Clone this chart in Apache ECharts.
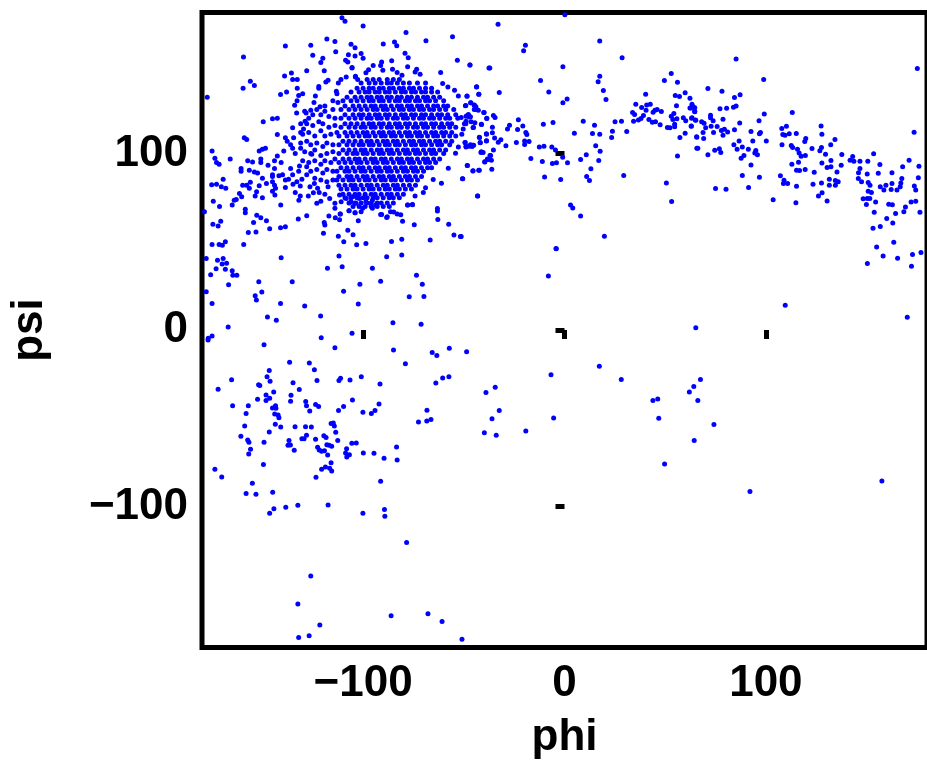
<!DOCTYPE html>
<html><head><meta charset="utf-8">
<style>html,body{margin:0;padding:0;background:#fff;overflow:hidden}#c{width:927px;height:774px}</style>
<script src="https://cdn.jsdelivr.net/npm/echarts@6/dist/echarts.min.js"></script>
</head><body><div id="c"></div>
<script>
const xTicks=[-100,0,100];
const yTicks=[-100,0,100];
const upperLeft=[[-110.5,177],[-109,175],[-100,172.4],[-118,165],[-114,163.5],[-126,161.4],[-138.6,161],[-159.4,154.8],[-113.6,157.8],[-125,155.8],[-106,162],[-104,160],[-107.3,156],[-104,155.4],[-101,156.7],[-100,154],[-120,154],[-121,151.6],[-108.7,153],[-107.6,152],[-105.5,148.8],[-119.3,147],[-128,147],[-135.6,145.7],[-139,144],[-135,142],[-132.7,142],[-156,141],[-154,138.6],[-159.6,137],[-177.4,132],[-132.7,137],[-138,135],[-141,133.5],[-130,134],[-132,133],[-132.8,130],[-134,127.4],[-123.7,132.7],[-124.4,129],[-121.4,126.5],[-119,127],[-117.4,141.6],[-118.5,140.6],[-122,138],[-122,137],[-111,142],[-112.3,140],[-108.4,143.5],[-103.8,143.5],[-113.3,135.4],[-113,134],[-115,130],[-112.5,129],[-133,123],[-128.3,123],[-126,124.6],[-128.8,118.4],[-131,117],[-149.6,118],[-145,119.7],[-142.6,120],[-135,114.6],[-129.6,114],[-131,112],[-142.6,110.8],[-159,109],[-157.8,108],[-138.6,109],[-134.5,109],[-137.7,107],[-136,105],[-175,101.5],[-150,102.5],[-151.6,101.5],[-148.5,103],[-139.4,101.5],[-135,103],[-131,103],[-133.7,100],[-173.6,97.4],[-172.8,95],[-171.5,94],[-166,97],[-157.3,96],[-154.9,95.3],[-150.8,97],[-150.8,95],[-147.2,93.4],[-144,96],[-142.6,98.7],[-140.7,95],[-160.6,91.5],[-160.6,90],[-156.5,90.6],[-154,89.6],[-144,91.5],[-136,91.5],[-131.6,93],[-128,92.5],[-125.5,99.6]];
const midLeft=[[-169.5,85.5],[-175.2,82.3],[-172.8,82.7],[-170.4,81.2],[-168.2,80.4],[-159.8,82],[-157.8,82],[-156,83.7],[-156.5,80.3],[-151.6,81.8],[-148,83],[-145,84],[-144,82],[-143.5,80.3],[-145,78.7],[-143.8,76.5],[-152.9,78.4],[-153.6,76],[-150,75],[-161.4,77.4],[-160.3,75.5],[-163,74],[-164,73.6],[-165,70.8],[-174.4,73],[-171.3,70],[-178.8,67],[-140.9,70.8],[-158.5,68.5],[-158.5,66.5],[-152.8,65],[-150.8,63.6],[-148,62],[-154.4,61],[-174.6,60],[-172,59],[-170.7,61.6],[-132.2,63],[-128,64.8],[-146.4,57.4],[-141,58],[-138.6,58.5],[-157,55.3],[-153.2,55.5],[-159.3,48.5],[-175,48.5],[-171.5,48.5],[-169.9,48],[-168.4,50],[-117,64.6],[-113.8,63.6],[-111.7,62.5],[-111.4,65.7],[-119.3,61],[-119,59.5],[-119.7,54.8],[-107.6,56.6],[-112.3,53.2],[-105,54],[-109.6,50],[-103.2,48.3],[-98.6,49],[-102.4,62],[-107,67.6],[-104,66.5],[-101,67],[-91.3,65.5],[-140.7,41],[-177.9,40.6],[-172.3,39.6],[-169.5,40.6],[-170,37.4],[-167.8,37.8],[-173,34.7],[-168.4,34.4],[-175.7,31.3],[-165,33.6],[-164.7,31],[-162.7,31],[-166.8,25.7],[-151.8,27.4],[-135.2,27.4],[-150.3,21.5],[-153.6,19.4],[-153,17],[-177.9,21.7],[-175,15],[-141,15],[-129,13.6],[-112,41.9],[-110.4,35.9],[-117.7,35],[-95.4,35],[-91.3,27.7],[-101.6,25.9],[-109.7,22],[-102.4,14.7],[-121.1,8],[-147.5,7.3],[-143.1,5.5],[-167,1.7],[-105.5,-1.9],[-120.8,-4.4],[-175,-3.4],[-176.9,-4.7],[-138.6,85],[-137,85.5],[-138.6,80.8],[-134.8,82.7],[-132.9,84],[-130.4,85.4],[-131.2,81.6],[-126.4,81.2],[-124.2,83],[-133.7,78],[-131.2,76],[-131.9,73.6],[-127.2,76],[-124.7,77.8],[-122.6,80.3],[-121.8,78],[-119,77],[-116.6,74.6],[-123,71.8],[-121,73],[-114,71.8],[-114,69],[-117.4,81.2],[-110.9,72.7],[-108.4,74.6],[-106,72.7],[-103.5,71.8],[-100.2,69],[-95.4,69],[-93.8,70.8],[-111.7,76.5],[-105.2,75.5],[-98.6,72.7],[-101.9,74.6],[-95.4,73.6],[-152.4,89],[-150,86],[-145,87],[-141.8,87.4]];
const lowerLeft=[[-177,-5.7],[-149.2,-8.3],[-114,-10],[-136.5,-18.3],[-126.7,-18.7],[-124.2,-22.5],[-146.6,-23],[-147.7,-26.5],[-165.3,-28.2],[-146.2,-29],[-134.8,-29.9],[-122.9,-28.7],[-111.2,-27.4],[-112,-28.7],[-106.5,-28.3],[-100.9,-26.5],[-91.6,-30.6],[-172,-33.6],[-151.9,-31],[-151.3,-31.4],[-131.7,-33.8],[-144.4,-35.1],[-148.2,-36.8],[-135.8,-37],[-146.4,-38.7],[-152.4,-39.3],[-148.2,-39.9],[-136,-40.4],[-128.5,-40.6],[-128.1,-42.9],[-123.6,-42.3],[-122.1,-43.3],[-105.3,-39.7],[-109.7,-43.3],[-164.8,-42.9],[-157,-42.9],[-143.5,-42.9],[-145,-44.2],[-143.3,-44.4],[-126.5,-45.9],[-112.2,-45.7],[-92.1,-42],[-100.1,-46.7],[-95.9,-47.4],[-94.1,-45.7],[-158.1,-47.4],[-143.9,-47.6],[-142.2,-48.2],[-141.8,-49.7],[-115.9,-53],[-114.8,-52.7],[-114.3,-54.4],[-158.8,-54.4],[-143.6,-53.5],[-140.9,-55],[-133.8,-54.8],[-128.6,-54.8],[-125.7,-55],[-113.6,-58],[-146.6,-57.8],[-160.7,-60.3],[-128.1,-59.7],[-130.4,-61.6],[-129.3,-61.6],[-119.5,-59.9],[-118.4,-61],[-123.6,-62],[-112.6,-62.7],[-157.3,-62.3],[-156.7,-63.7],[-149.2,-63.7],[-136.8,-62.7],[-136.1,-65.2],[-137.3,-65.4],[-134.2,-68.2],[-118,-65],[-116.9,-65.4],[-115.6,-65.9],[-105.6,-64.2],[-103.4,-64],[-155.9,-67.6],[-156.8,-70.3],[-122.6,-66.5],[-121.8,-68],[-120.6,-68.8],[-119.2,-68.4],[-117.6,-70.8],[-108.2,-67.3],[-108.7,-69.7],[-106.8,-70.7],[-108.1,-72],[-99.9,-69.7],[-94.6,-69.9],[-115.9,-75.2],[-149.5,-76.3],[-118.7,-77.6],[-120.6,-79],[-116.6,-78.4],[-115.6,-79.9],[-173.6,-79],[-170.2,-83.3],[-123.4,-83.5],[-155,-86.9],[-91.3,-85.8],[-144.9,-92],[-158.1,-92.7],[-153.2,-93.1],[-132.4,-99.4],[-117.4,-99.2],[-138.4,-100.5],[-144.3,-101.4],[-146.4,-103.9],[-100.1,-103.9],[-89.4,-101.8],[-89.2,-105.6],[-78.4,-120.5],[-126,-139.4],[-132.4,-155.4],[-86.1,-162],[-67.8,-160.9],[-60.8,-165.2],[-121.5,-167.3],[-132,-174.3],[-126.8,-173.4],[-50.9,-175.3]];
const midCenter=[[-77.9,70.8],[-75.5,71],[-63.1,68.9],[-63.1,67.4],[-62.9,62.7],[-80.4,61.7],[-74.6,59.7],[-57.5,60],[-54.9,53.8],[-51.7,53],[-66.7,51],[-85.9,50.2],[-80.8,51.4],[-4.1,46],[-88.3,41.5],[-80.8,42.5],[-8,30.6],[-73.5,31],[-70.6,26],[-77.1,18.9],[-69.8,19],[-85.2,4.1],[-71.2,3.2],[-84.9,-11.4],[-65.7,-12.7],[-63.4,-14.4],[-57.2,-10.4],[-48.6,-12.3],[-79,-19.1],[-6.7,-25.3],[-63.9,-30],[-60.5,-27.2],[-57.4,-26.5],[-34.4,-32.5],[-39,-35.5],[-68.3,-45.5],[-32.4,-45.7],[-36,-50.3],[-5.4,-49.9],[-72.5,-52.2],[-68.4,-51.6],[-66.3,-50.8],[-39.8,-58.2],[-33.9,-59.7],[-19.2,-57.3],[-83.4,-66.3],[-89.6,-72.7],[-83.1,-73.7],[-90.8,65.5],[-88.3,63.8],[-86.4,67],[-84.8,66.9],[-83.1,65.7],[-81.3,65.3]];
const blobFringe=[[-78.7,168.6],[-55.6,166.3],[-68.8,164],[-90,162.2],[-84.4,163.3],[-83.3,161.2],[-79.2,156.9],[-77.6,154.3],[-53.2,152.9],[-47,150.3],[-37.5,148.6],[-85.8,152.6],[-90.8,152],[-91.3,150],[-90.2,147.3],[-95,150],[-97.3,147.6],[-98.6,145.8],[-77.9,149.2],[-85.4,147.8],[-83.1,146],[-73.4,147.8],[-74.2,146.3],[-71.7,145],[-61.5,146],[-80.7,144.4],[-103.8,143.9],[-102.7,142],[-105.5,148.6],[-60.5,139.7],[-57.9,137.8],[-54.6,135.9],[-43.7,137.8],[-52.7,132.7],[-48.4,132.5],[-42.6,133.7],[-46.5,128.8],[-44.8,127.4],[-49.2,127.2],[-44,125],[-40.1,123.3],[-38.6,119.9],[-41.3,116.7],[-48.1,121.8],[-47.3,120.8],[-49.7,117],[-45.2,114.8],[-48.9,118.4],[-38.8,111.2],[-42.3,109.3],[-38.8,107.2],[-41.9,106.3],[-49.4,106.3],[-45.6,104.8],[-47.3,104.2],[-48.9,104.2],[-52.7,103.8],[-41.3,101],[-54.1,100.2],[-36.7,99],[-38.3,97],[-39.6,95.3],[-48.3,93.2],[-45.5,90.2],[-42.6,90.6],[-57.7,91.7],[-50.7,85.7],[-61.1,83.2],[-65.2,85.3],[-43.2,76],[-69,80.6],[-70.1,78],[-74.2,76],[-75.5,71.1],[-77.9,70.8],[-88,64.2],[-104,66.5],[-107,67.6],[-111.3,65.7]];
const leftLobe=[[-129,124],[-127,120],[-125,122],[-123,125],[-121,122],[-119,124],[-117,121],[-115,125],[-114,120],[-128,117],[-125,116],[-122,118],[-120,117],[-117,115],[-114,116],[-130,111],[-127,112],[-124,110],[-121,113],[-119,110],[-116,111],[-113,112],[-131,106],[-128,107],[-126,105],[-123,106],[-120,104],[-118,106],[-115,105],[-129,101],[-126,100],[-124,102],[-121,99],[-118,100],[-115,101],[-130,96],[-127,95],[-124,96],[-121,94],[-119,96],[-116,95],[-114,97],[-126,90],[-123,91],[-120,89],[-118,91],[-115,90],[-124,86],[-121,85],[-118,84],[-115,85],[-128,88],[-132,90],[-135,88],[-140,88],[-145,88]];
const corePsi=[142,140,137,135,132,130,127,125,122,120,117,115,112,110,107,105,102,100,97,95,92,90,87,85,82,80,77,75,72,70];
const corePhi=[
[-98,-95,-92,-88,-85,-82],
[-101,-97,-94,-91,-88,-86,-83,-80,-77,-73,-69],
[-103,-100,-97,-95,-92,-90,-87,-85,-82,-80,-77,-75,-72,-69,-66],
[-106,-102,-99,-97,-94,-92,-89,-87,-84,-81,-79,-76,-74,-71,-69,-66,-63],
[-108,-104,-101,-98,-96,-93,-91,-88,-86,-83,-81,-78,-76,-73,-70,-68,-65,-62],
[-110,-106,-103,-100,-97,-95,-92,-90,-87,-84,-82,-79,-77,-74,-72,-69,-67,-64,-60],
[-109,-105,-102,-99,-96,-94,-91,-89,-86,-83,-81,-78,-76,-73,-71,-68,-65,-63,-60,-58],
[-111,-107,-104,-101,-98,-95,-93,-90,-88,-85,-82,-80,-77,-75,-72,-70,-67,-65,-62,-59,-55],
[-109,-105,-102,-100,-97,-94,-92,-89,-87,-84,-81,-79,-76,-74,-71,-69,-66,-63,-61,-58,-54],
[-111,-107,-104,-101,-98,-96,-93,-91,-88,-85,-83,-80,-78,-75,-72,-70,-67,-65,-62,-59,-57,-53],
[-109,-106,-103,-100,-97,-95,-92,-90,-87,-84,-82,-79,-77,-74,-71,-69,-66,-64,-61,-58,-56],
[-111,-107,-104,-101,-99,-96,-94,-91,-88,-86,-83,-81,-78,-75,-73,-70,-68,-65,-62,-60,-57,-54],
[-109,-106,-103,-100,-98,-95,-92,-90,-87,-85,-82,-79,-77,-74,-72,-69,-66,-64,-61,-59,-56],
[-112,-108,-105,-102,-99,-97,-94,-91,-89,-86,-84,-81,-78,-76,-73,-71,-68,-65,-63,-60,-57,-54],
[-110,-107,-104,-101,-98,-96,-93,-90,-88,-85,-83,-80,-77,-75,-72,-70,-67,-64,-62,-59,-56],
[-112,-108,-105,-102,-100,-97,-95,-92,-89,-87,-84,-82,-79,-76,-74,-71,-69,-66,-63,-61,-57],
[-110,-107,-104,-101,-99,-96,-93,-91,-88,-86,-83,-80,-78,-75,-73,-70,-67,-65,-62,-59],
[-112,-108,-105,-103,-100,-98,-95,-92,-90,-87,-85,-82,-79,-77,-74,-72,-69,-66,-64,-60],
[-110,-107,-104,-102,-99,-96,-94,-91,-89,-86,-83,-81,-78,-76,-73,-70,-68,-65,-62],
[-112,-109,-106,-103,-101,-98,-95,-93,-90,-88,-85,-82,-80,-77,-75,-72,-69,-67,-64],
[-111,-108,-105,-102,-100,-97,-94,-92,-89,-87,-84,-81,-79,-76,-74,-71,-68,-66],
[-113,-109,-107,-104,-101,-99,-96,-93,-91,-88,-86,-83,-80,-78,-75,-73,-70],
[-112,-108,-106,-103,-100,-98,-95,-92,-90,-87,-85,-82,-79,-77,-74,-71],
[-113,-110,-107,-105,-102,-99,-97,-94,-91,-89,-86,-84,-81,-78,-76,-73],
[-112,-109,-106,-104,-101,-98,-96,-93,-90,-88,-85,-83,-80,-77,-74],
[-111,-108,-105,-103,-100,-97,-95,-92,-89,-87,-84,-82,-79,-76],
[-110,-107,-104,-102,-99,-96,-94,-91,-88,-86,-83,-80],
[-109,-106,-103,-100,-98,-95,-93,-90,-87,-85,-82],
[-107,-104,-101,-98,-96,-93,-91,-88,-85],
[-105,-102,-99,-96,-93,-90,-87]
];
const midBand=[[0.2,178.7],[-33,173.4],[-19.4,161.5],[-20.3,158.3],[17.5,163.9],[28.6,154.3],[-46.9,150.3],[-37.1,148.6],[-0.8,149.2],[53,145.4],[-11.9,141.4],[17.5,143.9],[16.7,140.7],[49.6,141.4],[56.1,140.5],[-43.6,137.9],[-7.8,135],[-32.4,134.6],[-42.5,133.7],[19.3,135.8],[40.3,133.7],[55,133],[57.1,132.4],[59.9,134.5],[62.3,131.4],[-48.4,132.6],[1.3,130.9],[-0.8,128.8],[20.6,130.7],[-46.6,128.8],[-49,127.3],[-44.8,127.5],[-44,126.5],[-44.8,125],[-42.8,124.6],[35.4,128],[40.8,127.6],[42.6,128],[38.3,126.1],[40.5,124.6],[55.6,127.1],[63.3,128],[62.3,125.8],[63.9,126.5],[64.6,124],[-39.9,123.3],[-47.7,122.2],[-48.9,121.2],[-46.7,120.9],[-35.3,121.6],[-34.5,120.5],[-38.6,120.1],[-51.3,120.5],[-46.4,118],[-44.5,117.5],[-49,116.9],[-41.2,116.5],[-45.4,114.8],[-35.8,115],[33.8,123.3],[34.8,122.2],[44.9,124.6],[46,125],[48.1,123.9],[44,123.5],[39.2,121.6],[38,119.9],[34.3,118.4],[36.7,119],[41.9,119.3],[43.6,117.8],[45.2,118],[47.5,116.3],[54.3,122.7],[53,121.2],[55.8,119.7],[53.8,119.3],[59,120.3],[60.2,118.6],[63.3,120.3],[65,119],[54.7,116.7],[51.1,114.8],[52.4,114.6],[54.7,115.2],[63,115.6],[25.1,118],[28.3,118.4],[9.3,118.4],[-10.5,116.7],[-5.7,117.6],[-22.9,119.2],[-27.3,116.1],[-28.3,113.9],[-20.7,115.6],[-23.3,113.7],[14.9,116.1],[4.9,111.6],[13.9,111.4],[17.5,111],[23.8,112.7],[30.9,112.5],[23.4,109.1],[-19.2,112],[-18.7,110.8],[-50.3,113.9],[-51,111],[-38.7,111],[-35.8,111.8],[-42.2,109.1],[-34.7,108.8],[-31.6,107.8],[-32.9,106.5],[-38.7,107.3],[-49.3,106.3],[-41.8,106.1],[-29.1,104.4],[-23.9,106.3],[-19.8,107.2],[-19.8,105.2],[-17.6,106.9],[59.9,111.6],[57.3,109.1],[65.6,109.5],[65.7,103.1],[-48.9,103.8],[-46.7,105],[-45.9,104],[-45.1,104.8],[-12.5,103.8],[-10.2,104.2],[-6.3,103.7],[-4.5,102],[15.5,104.4],[17.7,101.4],[-35.3,102],[-41.5,100.6],[-40.4,100.6],[-37,99],[-39.6,95.4],[-37.9,96.7],[-36.3,96.3],[-16.7,97.2],[-11,95.5],[-6,94.4],[-4,94.8],[-0.9,98],[1.5,94.8],[8,96.7],[10.8,99.3],[17,96.1],[56.1,98.6],[-48.2,93.3],[-45.4,90.3],[-42.3,90.6],[-36.1,91.2],[13.1,91.4],[29.4,87.6],[-50.5,85.7],[-9.9,86.8],[-1.9,85.3],[11,87],[12.4,84.8],[50.6,83.3],[53.2,72.9],[-43.1,76],[3,70.8],[4.1,69.1],[8,64.6],[19.8,53.2],[-51.3,53],[-4.2,46.2]];
const rightBand=[[85.2,153.7],[175.2,148.2],[98.9,142],[71.2,136.9],[78.2,135.4],[84.4,131.8],[87.2,133.3],[62.7,125.9],[64.7,126],[64.7,123.8],[77.2,125.4],[80.5,125.7],[83.9,126.3],[85.2,127],[113.1,123.3],[99.2,122.5],[72.5,121.8],[72.5,120.3],[63.1,120],[65.2,118.9],[68.1,118],[69.3,117.2],[73.8,118.6],[78.7,119.5],[96.6,118.6],[87,117.4],[70.1,114.6],[72.8,115.5],[75.8,115.4],[62.9,115.5],[68.8,111.9],[74,111.9],[77.9,113.1],[79.4,113.8],[81,112.3],[78.7,110.4],[84.4,113.5],[92.6,112.5],[97.3,111.9],[96.8,111.2],[107.9,114.2],[110.2,115.5],[111.6,111.2],[108.4,110.8],[109.5,110.4],[115.1,111.4],[127.4,115.7],[127.8,111],[65.7,109.3],[69.1,108.5],[86.7,107.2],[93.5,107.2],[100.2,107.2],[119.8,108.5],[119.3,106.8],[134.3,108],[84.1,105],[108,105],[112.6,104.6],[113.3,103.4],[132.2,105],[88.3,103.8],[91.3,102.5],[85.7,102.5],[66.2,103.1],[74.6,101.9],[76.9,102.7],[77.6,100.6],[115.7,102.5],[122.9,102.9],[127.6,103.4],[126.8,101.6],[95,101.7],[94.5,100.4],[95.8,99.3],[71.2,99.3],[116.5,100.4],[117.5,98.5],[119.6,98.9],[129.6,99.7],[137.7,99.5],[89.1,98.9],[87.7,97.4],[143.1,98.3],[153.5,99.9],[141.8,96.3],[143.7,95.7],[146.7,95.7],[150.6,95.7],[132.3,96.1],[127.8,94.7],[116.2,95.1],[112.9,94],[92.6,93.6],[156.6,93.8],[137.4,93.4],[171.1,96.3],[130.4,92.1],[132.3,92.5],[167.9,92.5],[176,92.9],[119.5,91],[115.2,90.6],[116.7,90.4],[124,89.5],[135.3,89.6],[146.7,91.5],[146,89.1],[150.3,88.5],[155.8,88.9],[162.6,89.1],[107.2,87.4],[88.3,87.6],[96.8,86.6],[145.9,85.9],[131.5,85.5],[134.5,84.7],[167.5,85.9],[175.7,86.3],[109,84.9],[127.6,83.4],[135.9,84],[147.5,84],[123.4,82.7],[108.7,83],[110.8,83],[131.5,82.1],[134.5,82.1],[150.8,83.6],[151.7,82.1],[162.6,83],[167,83.4],[159.6,82.1],[156.8,81.2],[115.2,81.5],[91.4,80.8],[75,80.2],[80.2,79.8],[158.6,79.3],[162.2,79.6],[165.1,79.3],[166.7,81.2],[173.7,81.7],[174.4,79.3],[150.8,78.7],[152.4,77.9],[127.9,77.8],[126.1,75.9],[148.3,74.4],[150.3,74.5],[151.6,74.5],[103.6,73.8],[130.4,73.2],[114.9,72.1],[154.5,72.5],[172.1,72.6],[174.4,73],[149.9,71.1],[161,71.3],[162.8,71],[169.3,69.8],[153.8,66.8],[168.5,67],[176.5,66.8],[164.4,66],[160,63.2],[163,60.7],[156.8,58.7],[153.2,57.7],[163.5,49.8],[155,47],[158.2,42],[172.8,42.8],[165.4,40.7],[177,44],[150.4,37.7],[172.3,36.2],[173.6,112.1]];
const sparseRight=[[109.6,14],[170.2,7.2],[65.2,1.3],[17.3,-20.6],[28.2,-28],[67.5,-28.1],[64.2,-32.1],[62,-35.1],[46.3,-39.1],[43.9,-40],[66.2,-40],[46.8,-50.1],[74.2,-53.6],[64.4,-62.7],[49.7,-75.9],[92.1,-91.6],[157.6,-85.6]];

const coreCloud=[];
corePsi.forEach((psi,i)=>corePhi[i].forEach(phi=>coreCloud.push([phi,psi])));
const points=[].concat(upperLeft,midLeft,lowerLeft,midCenter,blobFringe,leftLobe,coreCloud,midBand,rightBand,sparseRight);

const fmt=v=>String(v).replace('-','\u2212');
const font='"Liberation Sans"';
const chart=echarts.init(document.getElementById('c'),null,{renderer:'canvas'});
function axis(ticks,extra){
  return Object.assign({
    type:'value',min:-180,max:180,
    axisLine:{show:false},
    splitLine:{show:false},
    axisTick:{show:true,length:9,inside:false,customValues:ticks,lineStyle:{color:'#000',width:5}},
    axisLabel:{show:true,customValues:ticks,formatter:fmt,fontFamily:font,fontWeight:'bold',fontSize:44,color:'#000',margin:14},
    nameLocation:'middle',
    nameTextStyle:{fontFamily:font,fontWeight:'bold',fontSize:44,color:'#000'}
  },extra);
}
chart.setOption({
  animation:false,
  backgroundColor:'#fff',
  grid:{show:true,left:196.5,top:12.5,width:736,height:635,borderColor:'#000',borderWidth:5,backgroundColor:'transparent',containLabel:false},
  xAxis:axis(xTicks,{name:'phi',nameGap:68}),
  yAxis:axis(yTicks,{name:'psi',nameGap:150}),
  series:[{type:'scatter',data:points,symbol:'circle',symbolSize:5,itemStyle:{color:'#0000ff',opacity:1},large:false,clip:true,z:1}]
});
</script></body></html>
